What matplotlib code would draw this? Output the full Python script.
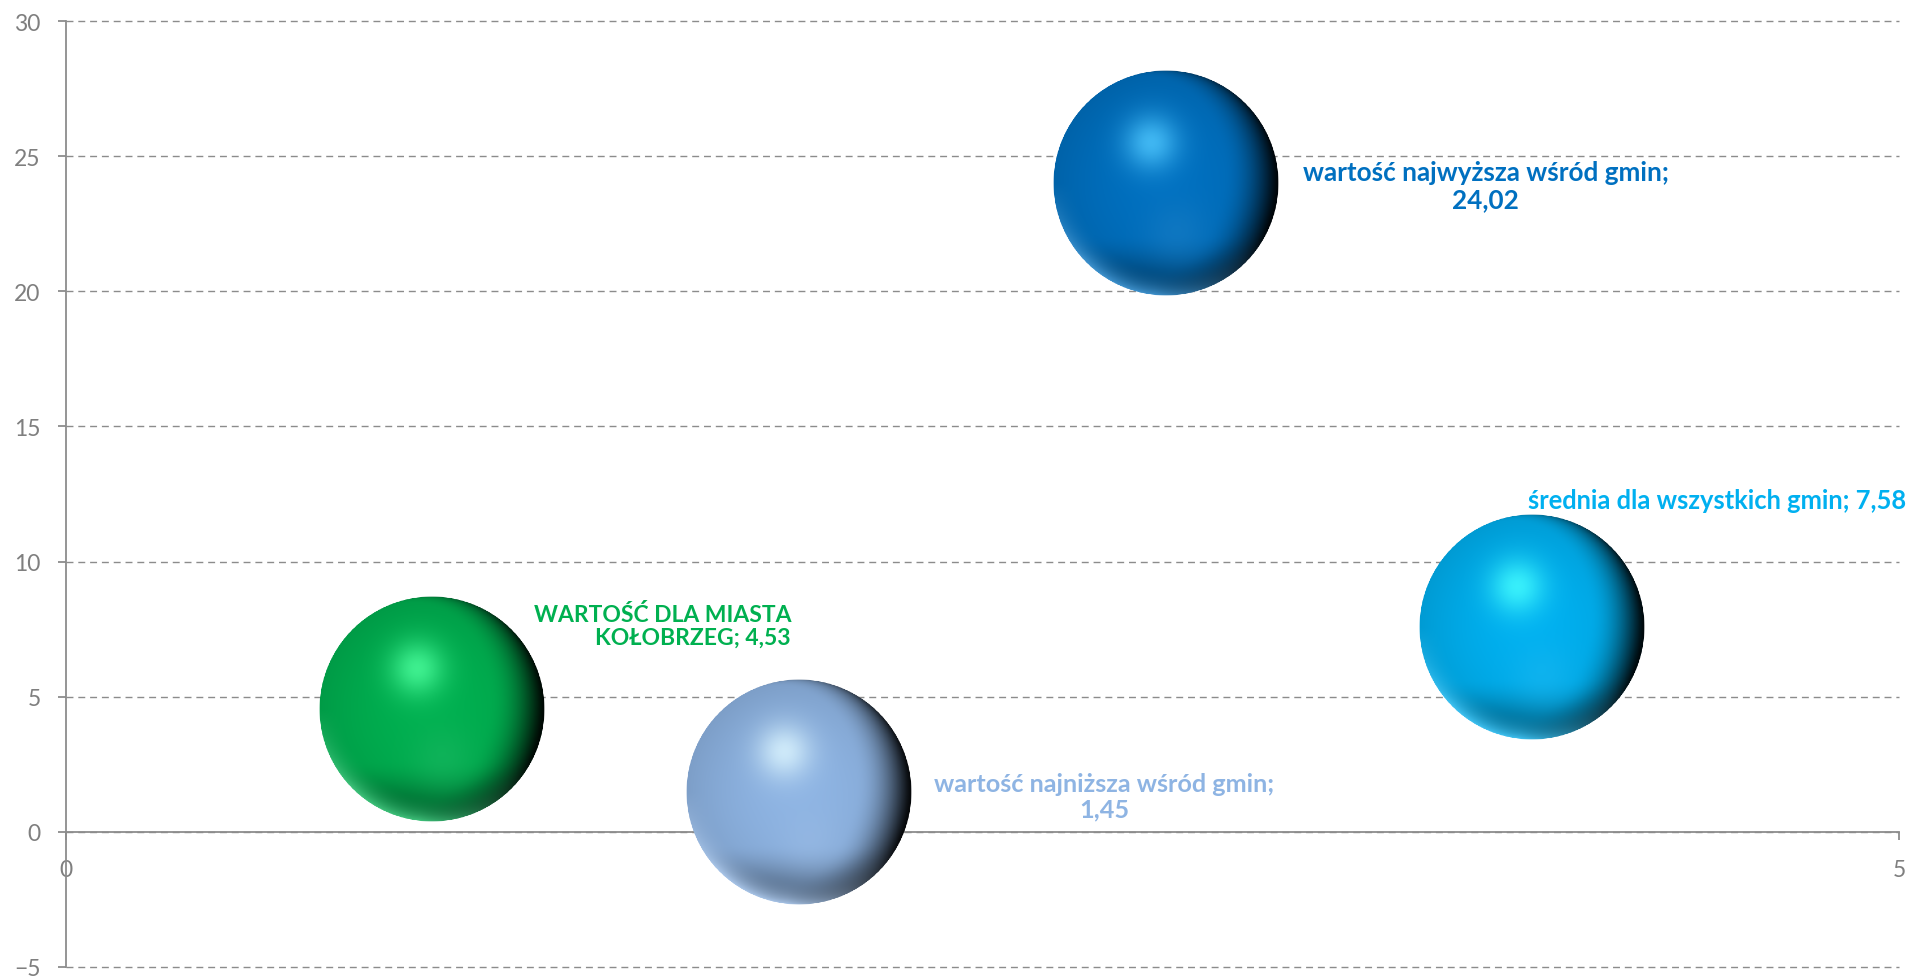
import numpy as np
import matplotlib
matplotlib.use("Agg")
import matplotlib.pyplot as plt
from matplotlib.colors import to_rgb
from matplotlib.offsetbox import OffsetImage, AnnotationBbox

# data
x_vals = [1, 2, 3, 4]
y_vals = [4.53, 1.45, 24.02, 7.58]
labels = ["WARTOŚĆ DLA MIASTA\nKOŁOBRZEG; 4,53",
          "wartość najniższa wśród gmin;\n1,45",
          "wartość najwyższa wśród gmin;\n24,02",
          "średnia dla wszystkich gmin; 7,58"]
colors = ["#00B050", "#8EB4E3", "#0070C0", "#00B0F0"]
shine = ["#4DFF9E", "#DDF6FF", "#4FC8FF", "#45FFFF"]
y_ticks = [-5, 0, 5, 10, 15, 20, 25, 30]
x_ticks = [0, 5]

# label offsets in pixels (dx, dy) from bubble centre, font sizes
offsets = [(230, 84), (305, -4), (320, -3), (185, 127)]
label_sizes = [16.5, 18.2, 18.8, 18.4]

BUBBLE_PX = 226          # bubble diameter in pixels
DPI = 100


def smooth(e0, e1, x):
    t = np.clip((x - e0) / (e1 - e0), 0, 1)
    return t * t * (3 - 2 * t)


def sphere_img(base, light, n=400):
    b = np.array(to_rgb(base))
    l = np.array(to_rgb(light))
    lin = np.linspace(-1, 1, n)
    u, v = np.meshgrid(lin, -lin)
    r = np.hypot(u, v)
    z = np.sqrt(np.clip(1 - r ** 2, 0, 1))
    col = b * (1 - 0.12 * r ** 2)[..., None]
    # dark band at the bottom
    bd = smooth(0.45, 0.95, -v) * 0.55
    col = col + (b * 0.35 - col) * bd[..., None]
    # right side fading to almost black, following the curvature
    L = np.array([-0.55, 0.1, 0.83])
    L = L / np.linalg.norm(L)
    d = u * L[0] + v * L[1] + z * L[2]
    rd = smooth(0.45, -0.45, d)
    col = col + (b * 0.05 - col) * rd[..., None]
    # main highlight
    g = np.exp(-((u + 0.13) ** 2 + (v - 0.36) ** 2) / (2 * 0.17 ** 2))
    col = col + (l - col) * (0.8 * g)[..., None]
    # faint lower blob
    g2 = np.exp(-((u - 0.1) ** 2 + (v + 0.45) ** 2) / (2 * 0.2 ** 2))
    blob = b + (1 - b) * 0.12
    col = col + (blob - col) * (0.45 * g2)[..., None]
    # bottom rim reflection
    rim = np.clip((r - 0.76) / 0.24, 0, 1) ** 2 * np.clip(-v * 1.5, 0, 1) * np.clip(0.9 - u, 0, 1)
    tint = b + (1 - b) * 0.25
    col = col + (tint - col) * np.clip(rim, 0, 1)[..., None]
    alpha = np.clip((1 - r) * n / 2, 0, 1)
    return np.dstack([np.clip(col, 0, 1), alpha])


fig = plt.figure(figsize=(19.08, 9.79), dpi=DPI)
ax = fig.add_axes([0.0344, 0.01154, 0.9609, 0.9657])
ax.set_xlim(0, 5)
ax.set_ylim(-5, 30)

grey = "#8c8c8c"
ax.set_yticks(y_ticks)
ax.set_xticks(x_ticks)
ax.yaxis.grid(True, linestyle=(0, (5, 3.5)), color=grey, linewidth=1.0)
for gl in ax.get_ygridlines():
    gl.set_clip_on(False)
ax.set_axisbelow(True)
for s in ["top", "right"]:
    ax.spines[s].set_visible(False)
ax.spines["bottom"].set_position(("data", 0))
ax.spines["left"].set_color(grey)
ax.spines["bottom"].set_color(grey)
ax.spines["left"].set_linewidth(1.3)
ax.spines["bottom"].set_linewidth(1.3)
ax.tick_params(axis="both", direction="out", length=6, width=1.3, color=grey,
               labelcolor="#7f7f7f", labelsize=16.5)
ax.tick_params(axis="y", pad=12)
ax.tick_params(axis="x", pad=14)
for t in ax.get_xticklabels() + ax.get_yticklabels():
    t.set_family("Lato")

# bubbles: flat base circle + shaded sphere image on top
diam_pt = BUBBLE_PX * 72 / DPI
ax.scatter(x_vals, y_vals, s=(diam_pt - 2) ** 2, c=colors, zorder=3, linewidths=0)
for xv, yv, c, sh in zip(x_vals, y_vals, colors, shine):
    img = sphere_img(c, sh)
    ib = OffsetImage(img, zoom=diam_pt / img.shape[0])
    ab = AnnotationBbox(ib, (xv, yv), frameon=False, zorder=4, pad=0)
    ax.add_artist(ab)

for xv, yv, lab, c, (dx, dy), fs, ma in zip(x_vals, y_vals, labels, colors, offsets,
                                             label_sizes,
                                             ["right", "center", "center", "center"]):
    ax.annotate(lab, (xv, yv), xytext=(dx, dy), textcoords="offset pixels",
                ha="center", va="center", multialignment=ma, color=c,
                fontsize=fs, fontweight="bold", family="Lato",
                linespacing=1.15, zorder=5, annotation_clip=False)

fig.savefig("out.png", dpi=DPI)
